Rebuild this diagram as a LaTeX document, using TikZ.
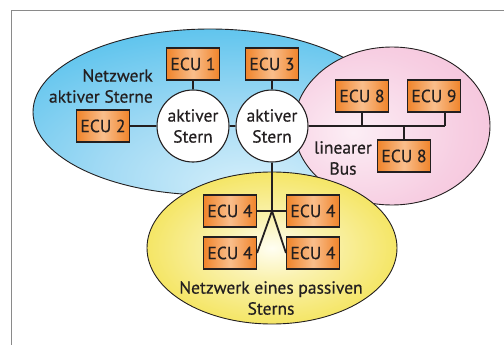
\documentclass[tikz,border=0pt]{standalone}
\usepackage{fontspec}
\setmainfont{PT Sans}[FakeBold=0.5]
\usetikzlibrary{calc}

% palette
\definecolor{txt}{HTML}{231F20}
\definecolor{edge}{HTML}{231F20}
\definecolor{framec}{HTML}{8A8A8A}
\definecolor{ecuE}{HTML}{F0842A}
\definecolor{ecuC}{HTML}{F9BE8C}
\definecolor{blueE}{HTML}{00A2DF}
\definecolor{blueM}{HTML}{4FBFEC}
\definecolor{blueB}{HTML}{A2DAF4}
\definecolor{blueC}{HTML}{D8F0FB}
\definecolor{pinkE}{HTML}{F2B3D0}
\definecolor{pinkM}{HTML}{F7CEE2}
\definecolor{pinkC}{HTML}{FCEEF5}
\definecolor{yelE}{HTML}{F0DC26}
\definecolor{yelM}{HTML}{F4E45C}
\definecolor{yelB}{HTML}{FAF2B0}
\definecolor{yelC}{HTML}{FFFEF2}

% fills of the three network regions
\pgfdeclareradialshading{bluefield}{\pgfpoint{6bp}{-24bp}}{%
  color(0bp)=(blueC); color(20bp)=(blueB); color(45bp)=(blueM);
  color(68bp)=(blueE); color(100bp)=(blueE)}
\pgfdeclareradialshading{pinkfield}{\pgfpoint{-10bp}{-2bp}}{%
  color(0bp)=(pinkC); color(25bp)=(pinkM); color(55bp)=(pinkE);
  color(100bp)=(pinkE)}
\pgfdeclareradialshading{yellowfield}{\pgfpoint{0bp}{0bp}}{%
  color(0bp)=(yelC); color(10bp)=(yelB); color(27bp)=(yelM);
  color(46bp)=(yelE); color(100bp)=(yelE)}

\begin{document}
\begin{tikzpicture}[x=1pt, y=-1pt,
  every node/.style={text=txt, font=\fontsize{17.5}{21}\selectfont},
  ecu/.style={draw=edge, line width=1.1pt, left color=ecuE, right color=ecuE,
    middle color=ecuC, minimum width=53pt, minimum height=32pt, inner sep=0pt},
  hub/.style={circle, draw=edge, line width=1.1pt, fill=white,
    minimum size=72pt, inner sep=0pt, align=center},
  wire/.style={draw=edge, line width=1.8pt},
  field/.style={draw=edge, line width=0.9pt, shade},
  caption/.style={inner sep=0pt}]

\useasboundingbox (0,0) rectangle (504,345);

% page frame
\draw[framec, line width=1.4pt] (11.5,345) -- (11.5,10.5) -- (504,10.5);

% network regions
\path[field, shading=bluefield] (210,112) ellipse [x radius=177pt, y radius=83pt];
\path[field, shading=pinkfield] (392,126) ellipse [x radius=98pt, y radius=79pt];
\path[field, shading=yellowfield] (272,248) ellipse [x radius=125pt, y radius=76pt];

% active stars
\node[ecu] (e1) at (193,64) {ECU 1};
\node[ecu] (e3) at (272,64) {ECU 3};
\node[ecu] (e2) at (103,126) {ECU 2};
\node[hub] (s1) at (193,126) {aktiver\\Stern};
\node[hub] (s2) at (272,126) {aktiver\\Stern};
\node[caption, align=right, anchor=east] (lblA) at (153,86) {Netzwerk\\aktiver Sterne};

% linear bus
\node[ecu] (e8a) at (362,96) {ECU 8};
\node[ecu] (e9) at (434,96) {ECU 9};
\node[ecu] (e8b) at (404,156) {ECU 8};
\coordinate (busE) at (445,126);
\node[caption, align=center] (lblB) at (343,158) {linearer\\Bus};

% passive star
\node[ecu] (e4a) at (230,211) {ECU 4};
\node[ecu] (e4b) at (313,211) {ECU 4};
\node[ecu] (e4c) at (230,253) {ECU 4};
\node[ecu] (e4d) at (313,253) {ECU 4};
\coordinate (pj) at (272,211);
\node[caption, align=center] (lblC) at (271,298) {Netzwerk eines passiven\\Sterns};

% connections
\draw[wire] (e2) -- (s1);
\draw[wire] (s1) -- (s2);
\draw[wire] (e1) -- (s1);
\draw[wire] (e3) -- (s2);
\draw[wire] (s2.east) -- (busE);
\draw[wire] (e8a.south) -- (e8a.south |- busE);
\draw[wire] (e9.south -| busE) -- (busE);
\draw[wire] (e8b.north) -- (e8b.north |- busE);
\draw[wire] (s2.south) -- (pj);
\draw[wire] (e4a.east) -- (e4b.west);
\draw[wire] (pj) -- (e4c.east);
\draw[wire] (pj) -- (e4d.west);
\end{tikzpicture}
\end{document}
